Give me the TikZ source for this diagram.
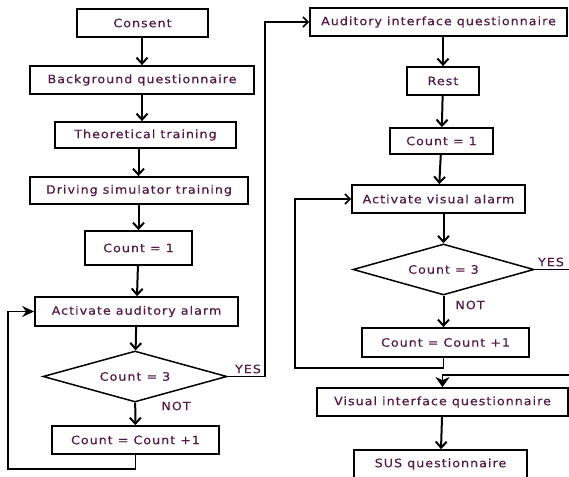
\documentclass[tikz,border=0pt]{standalone}
\usepackage{fontspec}
\setmainfont{DejaVu Sans}[FakeStretch=1.1,LetterSpace=9,FakeBold=0.4]
\usetikzlibrary{arrows.meta,shapes.geometric}
\definecolor{txt}{RGB}{85,25,70}
\begin{document}
\begin{tikzpicture}[x=1pt,y=-1pt,
  lbl/.style={text=txt,font=\fontsize{11.5}{13}\selectfont,inner sep=0pt},
  box/.style={lbl,draw=black,line width=1.8pt,rectangle,minimum height=28pt},
  dia/.style={lbl,draw=black,line width=1.5pt,diamond,aspect=3.6,minimum height=51pt},
  flow/.style={line width=2pt,-{Straight Barb[length=6pt,width=11pt]}},
  backl/.style={line width=1.7pt,-{Stealth[length=12pt,width=11pt,inset=4pt]}},
  thinl/.style={line width=1.6pt,-{Straight Barb[length=5pt,width=10pt]}},
  downl/.style={line width=1.6pt,-{Stealth[length=10pt,width=14pt,inset=3pt]}},
  plainl/.style={line width=1.6pt}]
\useasboundingbox[fill=white] (0,0) rectangle (569,476);
% left column
\node[box,minimum width=131pt] (consent) at (142.5,23) {Consent};
\node[box,minimum width=224pt] (bg) at (142,80) {Background questionnaire};
\node[box,minimum width=181pt,minimum height=26pt] (theo) at (145.5,135) {Theoretical training};
\node[box,minimum width=218pt,minimum height=27pt] (drive) at (139,190.5) {Driving simulator training};
\node[box,minimum width=107pt,minimum height=34pt] (cntA) at (138.5,248) {Count = 1};
\node[box,minimum width=203pt,minimum height=29pt] (actA) at (136.5,311.5) {Activate auditory alarm};
\node[dia,minimum width=184pt] (diaA) at (135,376.5) {Count = 3};
\node[box,minimum width=167pt] (incA) at (135.5,440) {Count = Count +1};
% right column
\node[box,minimum width=257pt] (audq) at (438.5,22) {Auditory interface questionnaire};
\node[box,minimum width=72pt] (rest) at (443,81) {Rest};
\node[box,minimum width=103pt,minimum height=26pt] (cntB) at (441.5,141) {Count = 1};
\node[box,minimum width=173pt] (actB) at (438.5,199) {Activate visual alarm};
\node[dia,minimum width=181pt] (diaB) at (443.5,269.5) {Count = 3};
\node[box,minimum width=167pt,minimum height=29pt] (incB) at (445.5,342.5) {Count = Count +1};
\node[box,minimum width=251pt] (visq) at (442.5,402) {Visual interface questionnaire};
\node[box,minimum width=173pt] (susq) at (440.5,464) {SUS questionnaire};
% labels
\node[lbl] (yesA) at (248,369) {YES};
\node[lbl] (notA) at (176,406) {NOT};
\node[lbl] (yesB) at (551,262) {YES};
\node[lbl] (notB) at (470,305) {NOT};
% coordinates
\coordinate (la) at (8,469);
\coordinate (ya) at (265,376.5);
\coordinate (lb) at (295,368);
\coordinate (yb) at (573,269.5);
\coordinate (yb2) at (573,375);
% left flow
\draw[flow] (consent.south -| bg.north) -- (bg);
\draw[flow] (bg) -- (theo.north -| bg.south);
\draw[flow] (theo.south -| cntA.north) -- (drive.north -| cntA.north);
\draw[flow] (drive.south -| cntA.north) -- (cntA);
\draw[flow] (cntA) -- (actA);
\draw[flow] (actA) -- (diaA);
\draw[flow] (diaA) -- (incA);
\draw[backl] (incA.south) |- (la) |- (actA.west);
\draw[thinl] (diaA.east) -- (ya) |- (audq.west);
% right flow
\draw[flow] (audq.south -| rest) -- (rest);
\draw[flow] (rest) -- (cntB);
\draw[flow] (cntB) -- (actB);
\draw[flow] (actB.south -| diaB.north) -- (diaB);
\draw[flow] (diaB) -- (incB.north -| diaB.south);
\draw[thinl] (incB.south -| diaB.south) |- (lb) |- (actB.west);
\draw[plainl] (diaB.east) -- (yb) -- (yb2);
\draw[downl] (yb2) -| (visq.north);
\draw[flow] (visq) -- (susq);
\end{tikzpicture}
\end{document}
